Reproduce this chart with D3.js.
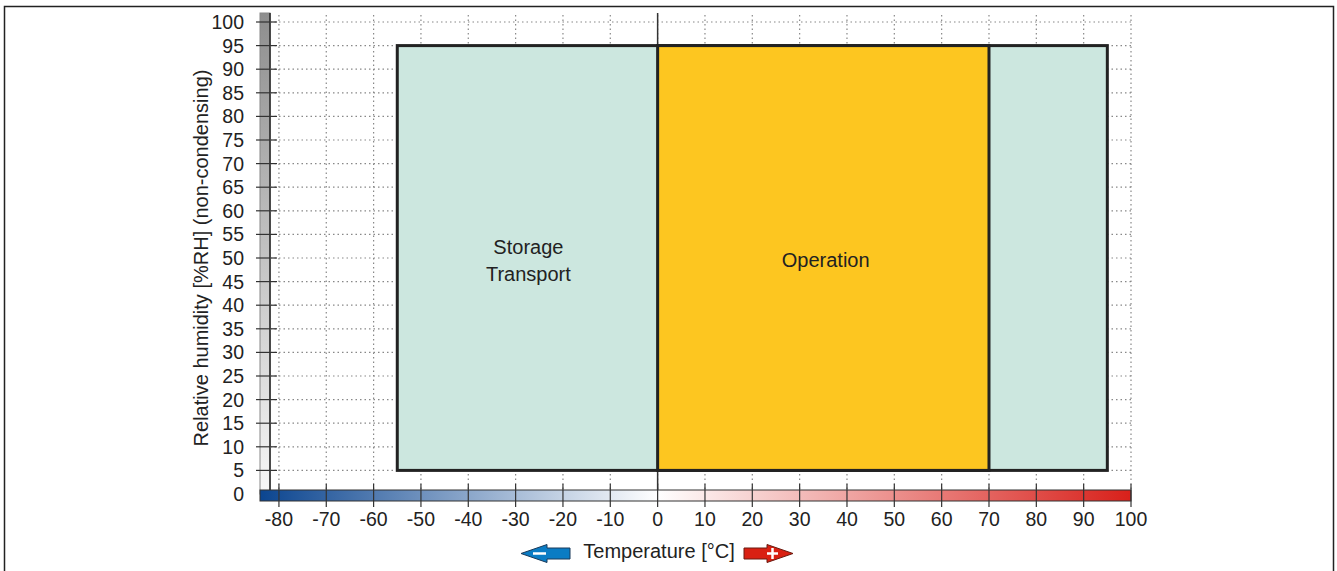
<!DOCTYPE html>
<html><head><meta charset="utf-8">
<script src="https://cdn.jsdelivr.net/npm/d3@7"></script>
<style>body{margin:0;background:#fff;}svg{display:block;font-family:"Liberation Sans",Arial,sans-serif;}</style>
</head><body>
<svg id="c" width="1337" height="571"></svg>
<script>
const xTicks = [-80,-70,-60,-50,-40,-30,-20,-10,0,10,20,30,40,50,60,70,80,90,100];
const yTicks = [0,5,10,15,20,25,30,35,40,45,50,55,60,65,70,75,80,85,90,95,100];
const zoneNames = ["Storage\nTransport","Operation"];
const zoneTemp = [[-55,95],[0,70]];
const zoneHum = [[5,95],[5,95]];
const zoneColors = ["#cce7df","#fdc620"];
const xLabel = "Temperature [°C]";
const yLabel = "Relative humidity [%RH] (non-condensing)";

const svg = d3.select("#c");
const x = d3.scaleLinear().domain([-84,100]).range([260,1131]);
const y = d3.scaleLinear().domain([0,100]).range([494,22]);

// outer frame
svg.append("path").attr("d","M4.5,571 V6.5 H1333.5 V571").attr("fill","none").attr("stroke","#222").attr("stroke-width",1.5);

const defs = svg.append("defs");
const gg = defs.append("linearGradient").attr("id","gg").attr("x1",0).attr("y1",0).attr("x2",0).attr("y2",1);
gg.append("stop").attr("offset","0").attr("stop-color","#8e8e8e");
gg.append("stop").attr("offset","1").attr("stop-color","#f7f7f7");
const cg = defs.append("linearGradient").attr("id","cg").attr("gradientUnits","userSpaceOnUse")
  .attr("x1",x(-84)).attr("x2",x(100)).attr("y1",0).attr("y2",0);
cg.append("stop").attr("offset",0).attr("stop-color","#0b4590");
cg.append("stop").attr("offset",(x(0)-x(-84))/(x(100)-x(-84))).attr("stop-color","#ffffff");
cg.append("stop").attr("offset",1).attr("stop-color","#d8201a");

// gray humidity bar
svg.append("rect").attr("x",260).attr("y",13).attr("width",10).attr("height",y(0)-13)
  .attr("fill","url(#gg)").attr("stroke","#888").attr("stroke-width",1);
svg.append("line").attr("x1",270).attr("x2",270).attr("y1",13).attr("y2",y(0)).attr("stroke","#222").attr("stroke-width",1.5);

// grid
const gridG = svg.append("g").attr("stroke","#888").attr("stroke-width",1.2).attr("stroke-dasharray","1.5,3");
gridG.selectAll("line.v").data(xTicks).join("line")
  .attr("x1",d=>x(d)).attr("x2",d=>x(d)).attr("y1",15).attr("y2",490);
gridG.selectAll("line.h").data(yTicks.filter(d=>d>0)).join("line")
  .attr("x1",270).attr("x2",x(100)).attr("y1",d=>y(d)).attr("y2",d=>y(d));

// zero line
svg.append("line").attr("x1",x(0)).attr("x2",x(0)).attr("y1",13).attr("y2",490).attr("stroke","#333").attr("stroke-width",1.5);

// zones
zoneNames.forEach((n,i)=>{
  svg.append("rect").attr("x",x(zoneTemp[i][0])).attr("y",y(zoneHum[i][1]))
    .attr("width",x(zoneTemp[i][1])-x(zoneTemp[i][0])).attr("height",y(zoneHum[i][0])-y(zoneHum[i][1]))
    .attr("fill",zoneColors[i]).attr("stroke","#222").attr("stroke-width",3);
});
// labels
const lab = [[x(-27.3),y(49.5)],[x(35.5),y(49.5)]];
zoneNames.forEach((n,i)=>{
  const lines = n.split("\n");
  const t = svg.append("text").attr("text-anchor","middle").attr("font-size",20).attr("fill","#222");
  lines.forEach((l,j)=>{
    t.append("tspan").attr("x",lab[i][0]).attr("y",lab[i][1]+7+(j-(lines.length-1)/2)*27).text(l);
  });
});

// color bar
svg.append("rect").attr("x",x(-84)).attr("y",490).attr("width",x(100)-x(-84)).attr("height",11)
  .attr("fill","url(#cg)").attr("stroke","#333").attr("stroke-width",1);

// x ticks
svg.append("g").selectAll("line").data(xTicks).join("line")
  .attr("x1",d=>x(d)).attr("x2",d=>x(d)).attr("y1",484).attr("y2",507).attr("stroke","#333").attr("stroke-width",1.2);
svg.append("g").selectAll("text").data(xTicks).join("text")
  .attr("x",d=>x(d)).attr("y",526).attr("text-anchor","middle").attr("font-size",19.5).attr("fill","#222").text(d=>d);

// y ticks
svg.append("g").selectAll("line").data(yTicks.filter(d=>d>0)).join("line")
  .attr("x1",256).attr("x2",277).attr("y1",d=>y(d)).attr("y2",d=>y(d)).attr("stroke","#333").attr("stroke-width",1.2);
svg.append("g").selectAll("text").data(yTicks).join("text")
  .attr("x",244).attr("y",d=>y(d)+7).attr("text-anchor","end").attr("font-size",19.5).attr("fill","#222").text(d=>d);

// y label
svg.append("text").attr("transform","translate(208,258) rotate(-90)").attr("text-anchor","middle")
  .attr("font-size",20).attr("fill","#222").text(yLabel);

// x label
svg.append("text").attr("x",659).attr("y",558).attr("text-anchor","middle").attr("font-size",20).attr("fill","#222").text(xLabel);

// arrows
svg.append("path").attr("d","M521,553.5 L547,544.5 L547,548 L570,548 L570,559 L547,559 L547,562.5 Z")
  .attr("fill","#0a7cc4").attr("stroke","#1a3a5a").attr("stroke-width",1);
svg.append("line").attr("x1",533).attr("x2",546).attr("y1",553.5).attr("y2",553.5).attr("stroke","#fff").attr("stroke-width",2.5);
svg.append("path").attr("d","M793,553.5 L767,544.5 L767,548 L744,548 L744,559 L767,559 L767,562.5 Z")
  .attr("fill","#d92012").attr("stroke","#6a1a10").attr("stroke-width",1);
svg.append("line").attr("x1",767).attr("x2",778).attr("y1",553.5).attr("y2",553.5).attr("stroke","#fff").attr("stroke-width",2.5);
svg.append("line").attr("x1",772.5).attr("x2",772.5).attr("y1",548).attr("y2",559).attr("stroke","#fff").attr("stroke-width",2.5);
</script>
</body></html>
